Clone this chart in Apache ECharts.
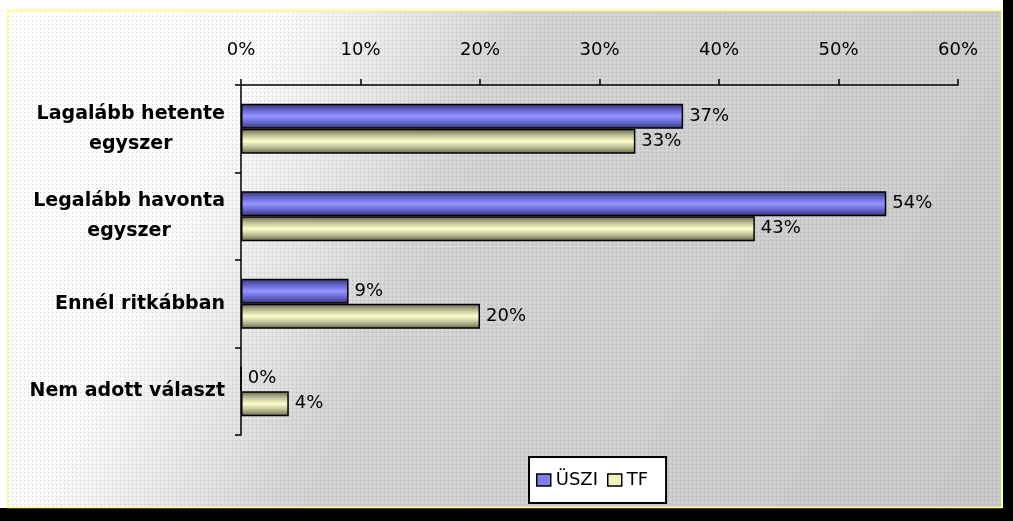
<!DOCTYPE html>
<html>
<head>
<meta charset="utf-8">
<script src="https://cdn.jsdelivr.net/npm/echarts@6/dist/echarts.min.js"></script>
<style>
html,body{margin:0;padding:0;background:#fff;}
#chart{width:1013px;height:521px;}
</style>
</head>
<body>
<div id="chart"></div>
<script>
var categories = ['Lagalább hetente\negyszer', 'Legalább havonta\negyszer', 'Ennél ritkábban', 'Nem adott választ'];
var seriesNames = ['ÜSZI', 'TF'];
var uszi = [37, 54, 9, 0];
var tf = [33, 43, 20, 4];
var xTicks = [0, 10, 20, 30, 40, 50, 60];

var pat = document.createElement('canvas');
pat.width = 4; pat.height = 4;
var pc = pat.getContext('2d');
pc.fillStyle = 'rgba(110,110,110,0.28)';
pc.fillRect(0, 0, 1, 1);
pc.fillStyle = 'rgba(255,255,255,0.45)';
pc.fillRect(2, 2, 1, 1);

function tube(edge, mid, center) {
  return {
    type: 'linear', x: 0, y: 0, x2: 0, y2: 1,
    colorStops: [
      {offset: 0, color: edge},
      {offset: 0.28, color: mid},
      {offset: 0.5, color: center},
      {offset: 0.72, color: mid},
      {offset: 1, color: edge}
    ]
  };
}

var chart = echarts.init(document.getElementById('chart'));
var font = 'DejaVu Sans';
chart.setOption({
  backgroundColor: '#ffffff',
  animation: false,
  graphic: [
    {type: 'rect', z: -20, shape: {x: 1003, y: 0, width: 10, height: 521}, style: {fill: '#000'}},
    {type: 'rect', z: -20, shape: {x: 0, y: 508, width: 1013, height: 13}, style: {fill: '#000'}},
    {type: 'rect', z: -19, shape: {x: 7.5, y: 10.5, width: 994, height: 497},
      style: {fill: {type: 'linear', x: 0, y: 0, x2: 1, y2: 1, colorStops: [
        {offset: 0, color: '#ffffff'}, {offset: 0.22, color: '#fafafa'},
        {offset: 0.42, color: '#d2d2d2'}, {offset: 1, color: '#c6c6c6'}]},
        stroke: '#ffff80', lineWidth: 1.5}},
    {type: 'rect', z: -18, shape: {x: 8, y: 11, width: 993, height: 496},
      style: {fill: {image: pat, repeat: 'repeat'}}}
  ],
  legend: {
    left: 529, top: 457,
    orient: 'horizontal',
    icon: 'rect',
    backgroundColor: '#ffffff',
    borderColor: '#000000', borderWidth: 2,
    padding: [14, 18, 14, 7],
    itemWidth: 14, itemHeight: 12, itemGap: 9,
    textStyle: {fontFamily: font, fontSize: 18, color: '#000'},
    data: [
      {name: seriesNames[0], itemStyle: {color: '#7f7fee', borderColor: '#000', borderWidth: 1.5}},
      {name: seriesNames[1], itemStyle: {color: '#f0f0c0', borderColor: '#000', borderWidth: 1.5}}
    ]
  },
  grid: {left: 241, top: 85, width: 717, height: 350, containLabel: false},
  xAxis: {
    type: 'value', position: 'top',
    min: 0, max: 60, interval: 10,
    axisLine: {show: true, lineStyle: {color: '#000', width: 1.5}},
    axisTick: {show: true, length: 6, lineStyle: {color: '#000', width: 1.5}},
    splitLine: {show: false},
    axisLabel: {
      margin: 26, fontFamily: font, fontSize: 18, color: '#000',
      formatter: function (v) { return xTicks.indexOf(v) >= 0 ? v + '%' : ''; }
    }
  },
  yAxis: {
    type: 'category', inverse: true, data: categories,
    axisLine: {show: true, lineStyle: {color: '#000', width: 1.5}},
    axisTick: {show: true, length: 6, lineStyle: {color: '#000', width: 1.5}},
    axisLabel: {
      margin: 16,
      formatter: function (v) {
        return v.split('\n').map(function (s) { return '{c|' + s + '}'; }).join('\n');
      },
      rich: {c: {align: 'center', fontFamily: font, fontWeight: 'bold', fontSize: 19, color: '#000', lineHeight: 30}}
    }
  },
  series: [
    {
      name: seriesNames[0], type: 'bar', data: uszi,
      barWidth: 25, barGap: '0%',
      itemStyle: {color: tube('#34346e', '#6a6ad6', '#9494ff'), borderColor: '#000', borderWidth: 1.5},
      label: {show: true, position: 'right', distance: 6, formatter: '{c}%', fontFamily: font, fontSize: 18, color: '#000'}
    },
    {
      name: seriesNames[1], type: 'bar', data: tf,
      barWidth: 25, barGap: '0%',
      itemStyle: {color: tube('#646449', '#c4c49c', '#ffffcc'), borderColor: '#000', borderWidth: 1.5},
      label: {show: true, position: 'right', distance: 6, formatter: '{c}%', fontFamily: font, fontSize: 18, color: '#000'}
    }
  ]
});
</script>
</body>
</html>
